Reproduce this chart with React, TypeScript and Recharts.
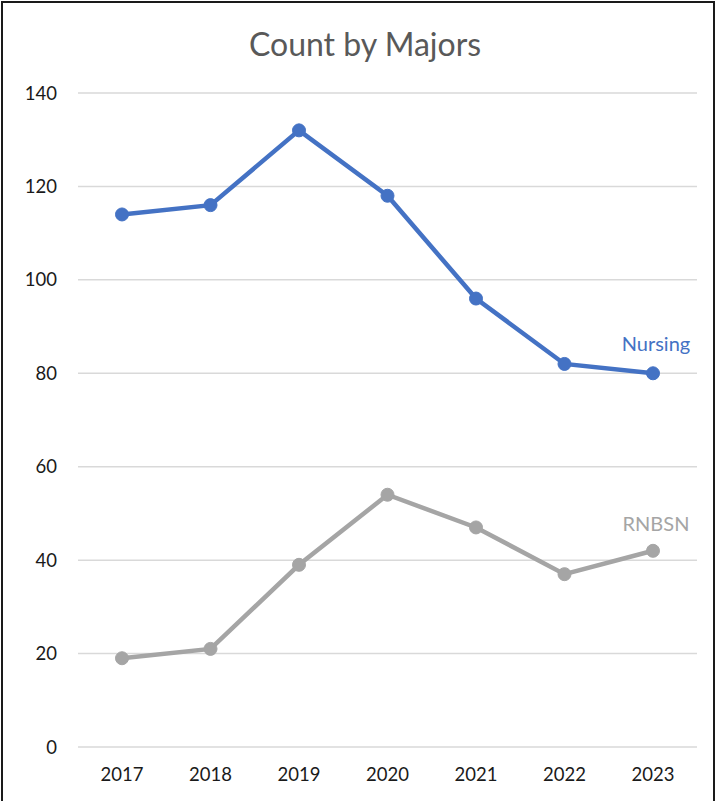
import React from "react";
import { LineChart, Line, XAxis, YAxis, CartesianGrid, LabelList } from "recharts";

const years = ["2017", "2018", "2019", "2020", "2021", "2022", "2023"];
const nursing = [114, 116, 132, 118, 96, 82, 80];
const rnbsn = [19, 21, 39, 54, 47, 37, 42];
const yTicks = [0, 20, 40, 60, 80, 100, 120, 140];

const data = years.map((y, i) => ({ year: y, Nursing: nursing[i], RNBSN: rnbsn[i] }));

const FONT = "Lato, 'Open Sans', sans-serif";

const makeEndLabel = (text: string, color: string, dy: number) => (props: any) => {
  const { x, y, index } = props;
  if (index !== years.length - 1) return null;
  return (
    <text x={x + 3} y={y + dy} fill={color} fontSize={20} fontFamily={FONT} textAnchor="middle" dominantBaseline="central">
      {text}
    </text>
  );
};

export default function App() {
  return (
    <div style={{ position: "absolute", left: 0, top: 0, width: 717, height: 801, background: "#fff" }}>
      <div
        style={{
          position: "absolute",
          left: 1,
          top: 1,
          width: 714,
          height: 806,
          border: "2px solid #1a1a1a",
          boxSizing: "border-box",
          pointerEvents: "none",
        }}
      />
      <div
        style={{
          position: "absolute",
          left: 0,
          top: 24,
          width: 730,
          lineHeight: "40px",
          textAlign: "center",
          fontFamily: FONT,
          fontSize: 32,
          color: "#595959",
        }}
      >
        Count by Majors
      </div>
      <LineChart
        width={717}
        height={801}
        data={data}
        margin={{ top: 93, right: 20, bottom: 14, left: 0 }}
        style={{ position: "absolute", left: 0, top: 0 }}
      >
        <CartesianGrid horizontal vertical={false} stroke="#d9d9d9" strokeWidth={1.5} />
        <XAxis
          dataKey="year"
          axisLine={false}
          tickLine={false}
          height={40}
          tickMargin={15}
          padding={{ left: 44, right: 44 }}
          tick={{ fontSize: 18.5, fontFamily: FONT, fill: "#1a1a1a" }}
        />
        <YAxis
          domain={[0, 140]}
          ticks={yTicks}
          width={78}
          axisLine={false}
          tickLine={false}
          tickMargin={15}
          tick={{ fontSize: 18.5, fontFamily: FONT, fill: "#1a1a1a" }}
        />
        <Line
          dataKey="Nursing"
          stroke="#4472C4"
          strokeWidth={4.5}
          dot={{ r: 6.5, fill: "#4472C4", stroke: "#4472C4", strokeWidth: 1 }}
          isAnimationActive={false}
        >
          <LabelList dataKey="Nursing" content={makeEndLabel("Nursing", "#4472C4", -30)} />
        </Line>
        <Line
          dataKey="RNBSN"
          stroke="#A5A5A5"
          strokeWidth={4.5}
          dot={{ r: 6.5, fill: "#A5A5A5", stroke: "#A5A5A5", strokeWidth: 1 }}
          isAnimationActive={false}
        >
          <LabelList dataKey="RNBSN" content={makeEndLabel("RNBSN", "#A5A5A5", -28)} />
        </Line>
      </LineChart>
    </div>
  );
}
